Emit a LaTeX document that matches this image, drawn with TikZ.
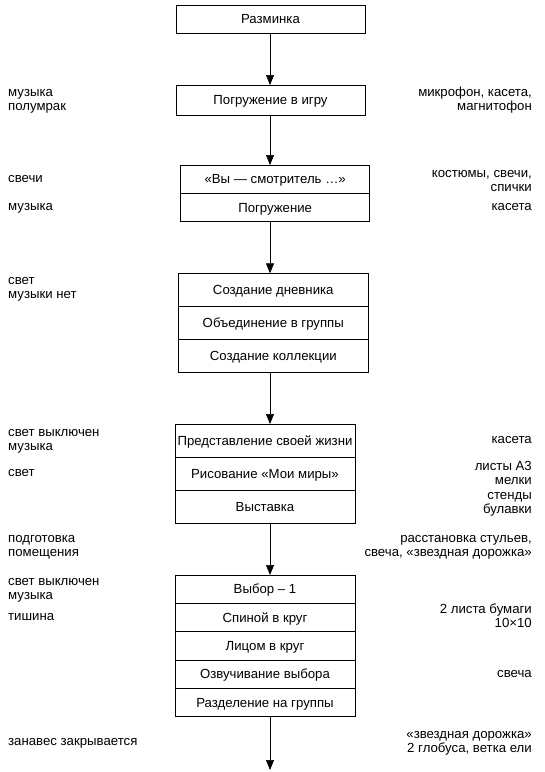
\documentclass[tikz,border=0pt]{standalone}
\usepackage{fontspec}
\setmainfont{Liberation Sans}
\usetikzlibrary{positioning,arrows.meta}
\begin{document}
\begin{tikzpicture}[x=1pt,y=-1pt,
    every node/.style={font=\fontsize{13.2}{14.5}\selectfont},
    cell/.style 2 args={draw,line width=.8pt,inner sep=0pt,outer sep=0pt,text height=9.5pt,text depth=0pt,minimum width=#1,minimum height=#2},
    arr/.style={-{Triangle[length=10pt,width=8pt]},line width=.6pt},
    lft/.style={anchor=base west,align=left,inner sep=0pt},
    rgt/.style={anchor=base east,align=right,inner sep=0pt}]
    \useasboundingbox (0,0) rectangle (545,772);
    \coordinate (axis) at (270,0);
    % boxes
    \node[cell={189pt}{28pt},anchor=north west] (warmup) at (176,5) {Разминка};
    \node[cell={189pt}{30pt},anchor=north west] (dive) at (176,85) {Погружение в игру};
    \node[cell={189pt}{28.3pt},anchor=north west] (viewer) at (180.7,165) {«Вы — смотритель …»};
    \node[cell={189pt}{28.3pt},below=0pt of viewer] (plunge) {Погружение};
    \node[cell={190pt}{33.1pt},anchor=north west] (diary) at (178.3,273.3) {Создание дневника};
    \node[cell={190pt}{33.1pt},below=0pt of diary] (groups) {Объединение в группы};
    \node[cell={190pt}{33.1pt},below=0pt of groups] (collect) {Создание коллекции};
    \node[cell={180pt}{33.1pt},anchor=north west] (life) at (175,424) {Представление своей жизни};
    \node[cell={180pt}{33.1pt},below=0pt of life] (worlds) {Рисование «Мои миры»};
    \node[cell={180pt}{33.1pt},below=0pt of worlds] (expo) {Выставка};
    \node[cell={180pt}{28.3pt},anchor=north west] (choice) at (175,575) {Выбор – 1};
    \node[cell={180pt}{28.3pt},below=0pt of choice] (back) {Спиной в круг};
    \node[cell={180pt}{28.3pt},below=0pt of back] (face) {Лицом в круг};
    \node[cell={180pt}{28.3pt},below=0pt of face] (voice) {Озвучивание выбора};
    \node[cell={180pt}{28.3pt},below=0pt of voice] (split) {Разделение на группы};
    \coordinate (out) at (270,770);
    % arrows
    \draw[arr] (warmup.south -| axis) -- (dive.north -| axis);
    \draw[arr] (dive.south -| axis) -- (viewer.north -| axis);
    \draw[arr] (plunge.south -| axis) -- (diary.north -| axis);
    \draw[arr] (collect.south -| axis) -- (life.north -| axis);
    \draw[arr] (expo.south -| axis) -- (choice.north -| axis);
    \draw[arr] (split.south -| axis) -- (out);
    % left notes (base = last line)
    \node[lft] (mood1) at (8,110.5) {музыка\\полумрак};
    \node[lft] (candles) at (8,182.8) {свечи};
    \node[lft] (music1) at (8,210.8) {музыка};
    \node[lft] (light1) at (8,298.8) {свет\\музыки нет};
    \node[lft] (dark1) at (8,450.8) {свет выключен\\музыка};
    \node[lft] (light2) at (8,476.8) {свет};
    \node[lft] (prep) at (8,556.8) {подготовка\\помещения};
    \node[lft] (dark2) at (8,599.8) {свет выключен\\музыка};
    \node[lft] (silence) at (8,620.8) {тишина};
    \node[lft] (curtain) at (8,745.3) {занавес закрывается};
    % right notes
    \node[rgt] (mic) at (532,110.5) {микрофон, касета,\\магнитофон};
    \node[rgt] (costume) at (532,191.8) {костюмы, свечи,\\спички};
    \node[rgt] (tape1) at (532,210.6) {касета};
    \node[rgt] (tape2) at (532,443.8) {касета};
    \node[rgt] (sheets) at (532,513.8) {листы А3\\мелки\\стенды\\булавки};
    \node[rgt] (chairs) at (532,556.8) {расстановка стульев,\\свеча, «звездная дорожка»};
    \node[rgt] (paper) at (532,627.8) {2 листа бумаги\\10×10};
    \node[rgt] (candle) at (532,677.3) {свеча};
    \node[rgt] (path) at (532,752.8) {«звездная дорожка»\\2 глобуса, ветка ели};
\end{tikzpicture}
\end{document}
